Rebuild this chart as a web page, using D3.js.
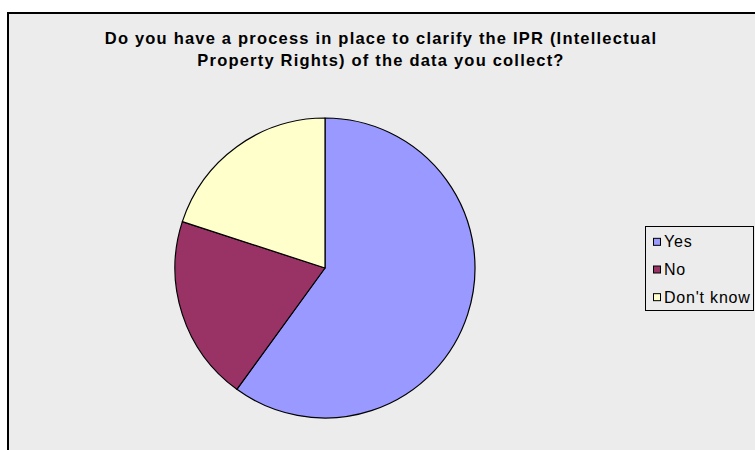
<!DOCTYPE html>
<html>
<head>
<meta charset="utf-8">
<script src="https://cdn.jsdelivr.net/npm/d3@7/dist/d3.min.js"></script>
<style>
  html, body { margin: 0; padding: 0; background: #ffffff; }
  svg { display: block; }
  text { font-family: "Liberation Sans", Arial, sans-serif; }
</style>
</head>
<body>
<svg id="chart" width="755" height="450"></svg>
<script>
const categories = ["Yes", "No", "Don't know"];
const values = [60, 20, 20];
const colors = ["#9999ff", "#993366", "#ffffcc"];
const titleLines = [
  "Do you have a process in place to clarify the IPR (Intellectual",
  "Property Rights) of the data you collect?"
];

const svg = d3.select("#chart");

// chart area
svg.append("rect")
  .attr("x", 8).attr("y", 13)
  .attr("width", 760).attr("height", 450)
  .attr("fill", "#ececec")
  .attr("stroke", "#000").attr("stroke-width", 2);

// title
const title = svg.append("text")
  .attr("text-anchor", "middle")
  .attr("font-size", 16.5)
  .attr("font-weight", "bold")
  .attr("letter-spacing", 1.2)
  .attr("fill", "#000");
title.selectAll("tspan").data(titleLines).enter().append("tspan")
  .attr("x", 381)
  .attr("y", (d, i) => 44 + i * 21.5)
  .text(d => d);

// pie
const cx = 325, cy = 268, r = 150;
const pie = d3.pie().sort(null).value(d => d.value);
const arc = d3.arc().innerRadius(0).outerRadius(r);
const data = categories.map((c, i) => ({ name: c, value: values[i], color: colors[i] }));
const g = svg.append("g").attr("transform", `translate(${cx},${cy})`);
g.selectAll("path").data(pie(data)).enter().append("path")
  .attr("d", arc)
  .attr("fill", d => d.data.color)
  .attr("stroke", "#000")
  .attr("stroke-width", 1.2)
  .attr("stroke-linejoin", "round");

// legend
const lg = svg.append("g");
lg.append("rect")
  .attr("x", 645.5).attr("y", 226.5)
  .attr("width", 108).attr("height", 84)
  .attr("fill", "#ececec")
  .attr("stroke", "#000").attr("stroke-width", 1);
const ly = d3.scaleBand().domain(categories).range([228, 311]);
const items = lg.selectAll("g.item").data(data).enter().append("g").attr("class", "item")
  .attr("transform", d => `translate(0,${ly(d.name) + ly.bandwidth() / 2})`);
items.append("rect")
  .attr("x", 653.5).attr("y", -3.5)
  .attr("width", 7).attr("height", 7)
  .attr("fill", d => d.color)
  .attr("stroke", "#000").attr("stroke-width", 1);
items.append("text")
  .attr("x", 664).attr("y", 5.5)
  .attr("font-size", 16)
  .attr("letter-spacing", 0.8)
  .attr("fill", "#000")
  .text(d => d.name);
</script>
</body>
</html>
